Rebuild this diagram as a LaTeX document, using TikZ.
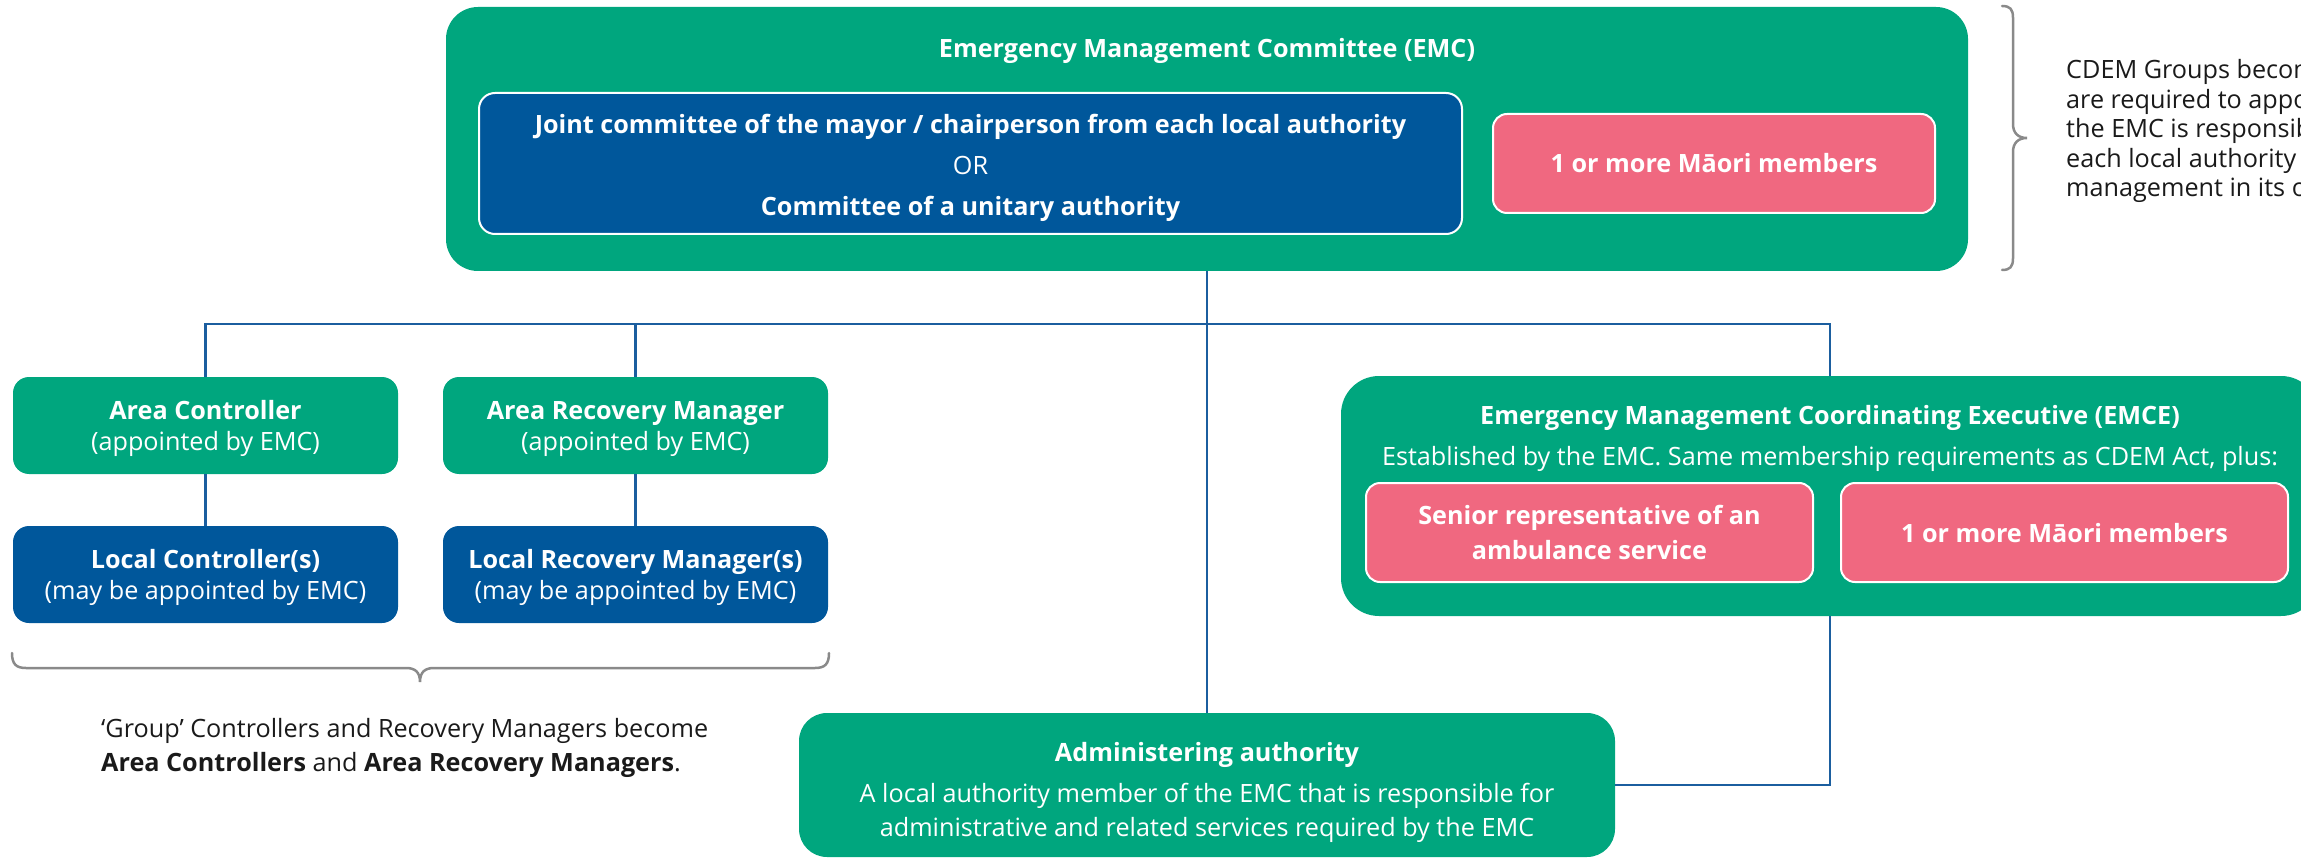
\documentclass[tikz,border=0pt]{standalone}
\usepackage{fontspec}
\setmainfont{Open Sans}
\definecolor{emgreen}{HTML}{00A67E}
\definecolor{emblue}{HTML}{00579B}
\definecolor{empink}{HTML}{F06880}
\definecolor{linkblue}{HTML}{1B5E9F}
\definecolor{bracegray}{HTML}{8A8A8A}
\definecolor{txtdark}{HTML}{1A1A1A}
\newcommand{\tstr}[1][25pt]{\rule{0pt}{#1}}
\newcommand{\bstr}{\rule[-6pt]{0pt}{6pt}}
\tikzset{
  base/.style={rectangle, inner sep=0pt, align=center, text=white, font=\fontsize{25.2}{31}\selectfont},
  greenbox/.style={base, fill=emgreen, rounded corners=16pt},
  bluebox/.style={base, fill=emblue, rounded corners=16pt},
  pinkbox/.style={base, fill=empink, draw=white, line width=2pt, rounded corners=14pt, font=\bfseries\fontsize{25.2}{35}\selectfont},
  link/.style={draw=linkblue, line width=2.5pt},
  bracepath/.style={draw=bracegray, line width=2.5pt, line cap=round},
  notetext/.style={inner sep=0pt, align=left, text=txtdark},
}
\begin{document}
\begin{tikzpicture}[x=1pt,y=-1pt]
\useasboundingbox (0,0) rectangle (2301,858);
\clip (0,0) rectangle (2301,858);

% EMC
\node[greenbox, rounded corners=32pt, minimum width=1522pt, minimum height=264pt] (emc) at (1207,139) {};
\node[base, font=\bfseries\fontsize{25.2}{31}\selectfont] (emctitle) at (1207,51) {Emergency Management Committee (EMC)};
\node[bluebox, draw=white, line width=2pt, minimum width=983pt, minimum height=141pt] (joint) at (970.5,163.5)
  {\tstr[28pt]\textbf{Joint committee of the mayor / chairperson from each local authority}\\[10pt]OR\\[10pt]\textbf{Committee of a unitary authority}\bstr};
\node[pinkbox, minimum width=442pt, minimum height=99pt] (emcmaori) at (1714,163.5) {\tstr 1 or more Māori members\bstr};

% Area / local
\node[greenbox, minimum width=385pt, minimum height=97pt] (ac) at (205.5,425.5) {\tstr\textbf{Area Controller}\\(appointed by EMC)\bstr};
\node[greenbox, minimum width=385pt, minimum height=97pt] (arm) at (635.5,425.5) {\tstr\textbf{Area Recovery Manager}\\(appointed by EMC)\bstr};
\node[bluebox, minimum width=385pt, minimum height=97pt] (lc) at (205.5,574.5) {\tstr\textbf{Local Controller(s)}\\(may be appointed by EMC)\bstr};
\node[bluebox, minimum width=385pt, minimum height=97pt] (lrm) at (635.5,574.5) {\tstr\textbf{Local Recovery Manager(s)}\\(may be appointed by EMC)\bstr};

% EMCE
\node[greenbox, rounded corners=38pt, minimum width=978pt, minimum height=240pt] (emce) at (1830,496) {};
\node[base, font=\bfseries\fontsize{25.2}{31}\selectfont] (emcetitle) at (1830,418) {Emergency Management Coordinating Executive (EMCE)};
\node[base] (emcesub) at (1830,459) {Established by the EMC. Same membership requirements as CDEM Act, plus:};
\node[pinkbox, minimum width=447pt, minimum height=99pt] (ambulance) at (1589.5,532.5) {\tstr Senior representative of an\\ambulance service\bstr};
\node[pinkbox, minimum width=447pt, minimum height=99pt] (emcemaori) at (2064.5,532.5) {\tstr 1 or more Māori members\bstr};

% Administering authority
\node[greenbox, rounded corners=28pt, minimum width=816pt, minimum height=144pt, font=\fontsize{25.2}{34}\selectfont] (admin) at (1207,785)
  {\tstr[35pt]\textbf{Administering authority}\\[7pt]A local authority member of the EMC that is responsible for\\administrative and related services required by the EMC\bstr};

% connectors
\coordinate (bus) at (1207,324);
\draw[link] (emc.south) -- (admin.north);
\draw[link] (ac.north) |- (bus) -| (emce.north);
\draw[link] (arm.north) -- (arm.north |- bus);
\draw[link] (ac.south) -- (lc.north);
\draw[link] (arm.south) -- (lrm.north);
\draw[link] (emce.south) |- (admin.east);

% braces
\draw[bracepath] (2002,6) .. controls (2010,6) and (2013,9) .. (2013,18) -- (2013,124)
  .. controls (2013,133) and (2018,138) .. (2027,138)
  .. controls (2018,138) and (2013,143) .. (2013,152) -- (2013,258)
  .. controls (2013,267) and (2010,270) .. (2002,270);
\draw[bracepath] (12,653) .. controls (12,664) and (16,668) .. (26,668) -- (406,668)
  .. controls (415,668) and (420,672) .. (420,682)
  .. controls (420,672) and (425,668) .. (434,668) -- (815,668)
  .. controls (825,668) and (829,664) .. (829,653);

% notes
\node[notetext, anchor=west, font=\fontsize{25.2}{34}\selectfont] (groupnote) at (101,748)
  {‘Group’ Controllers and Recovery Managers become\\\textbf{Area Controllers} and \textbf{Area Recovery Managers}.};
\node[notetext, anchor=west, font=\fontsize{25.2}{29.5}\selectfont] (cdemnote) at (2066,131)
  {CDEM Groups become\\are required to appoint\\the EMC is responsible\\each local authority\\management in its own};
\end{tikzpicture}
\end{document}
